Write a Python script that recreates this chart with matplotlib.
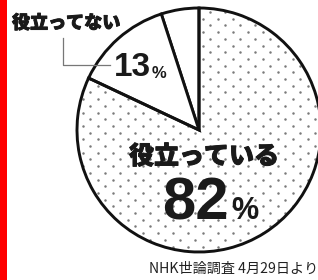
import numpy as np
import matplotlib
matplotlib.use("Agg")
import matplotlib.pyplot as plt
import matplotlib.patheffects as pe

# ---- data ----
categories = ["その他", "役立ってない", "役立っている"]
values = [5, 13, 82]
label_small = "役立ってない"
label_big = "役立っている"
pct_small = "13"
pct_big = "82"
source = "NHK世論調査 4月29日より"

W, H = 318, 280
fig = plt.figure(figsize=(W / 100, H / 100), dpi=100)
ax = fig.add_axes([0, 0, 1, 1])

cx, cy, R = 199, H - 130, 122

wedges, _ = ax.pie(values, startangle=90, counterclock=True, center=(cx, cy),
                   radius=R, colors=["white", "white", "none"],
                   wedgeprops=dict(edgecolor="#111111", linewidth=2.1, zorder=2))
wedges[2].set_facecolor("none")

# dot texture inside the big slice
ys = np.arange(0, H, 6.7)
pts = []
for j, yy in enumerate(ys):
    off = 7.5 if j % 2 else 0.0
    for xx in np.arange(off, W, 15.0):
        pts.append((xx, yy))
pts = np.array(pts)
sc = ax.scatter(pts[:, 0], pts[:, 1], s=3.2, color="#7a7a7a", linewidths=0, zorder=1)
sc.set_clip_path(wedges[2])

ax.set_xlim(0, W)
ax.set_ylim(0, H)
ax.set_aspect("equal")
ax.axis("off")

# red bar on left
ax.add_patch(plt.Rectangle((0, 0), 7, H, color="#ff0000", lw=0, zorder=5))

jp = ["Noto Sans CJK JP", "DejaVu Sans"]
num = ["Liberation Sans", "DejaVu Sans"]
thick = [pe.withStroke(linewidth=0.7, foreground="#1a1a1a")]

ax.text(12, H - 23, label_small, family=jp, fontsize=13, weight="heavy",
        ha="left", va="center", color="#1a1a1a", zorder=6, path_effects=thick)
# leader line
ax.plot([63, 63, 110], [H - 38, H - 65, H - 65], color="#777777", lw=0.9, zorder=6)

ax.text(114, H - 68, pct_small, family=num, fontsize=24, weight="bold",
        ha="left", va="center", color="#1a1a1a", zorder=6)
ax.text(152, H - 73, "%", family=num, fontsize=12, weight="bold",
        ha="left", va="center", color="#1a1a1a", zorder=6)

ax.text(204, H - 156, label_big, family=jp, fontsize=18, weight="heavy",
        ha="center", va="center", color="#1a1a1a", zorder=6, path_effects=thick)
ax.text(162, H - 204, pct_big, family=num, fontsize=43, weight="bold",
        ha="left", va="center", color="#1a1a1a", zorder=6)
ax.text(231, H - 211, "%", family=num, fontsize=22, weight="bold",
        ha="left", va="center", color="#1a1a1a", zorder=6)

ax.text(149, H - 269, source, family=jp, fontsize=10.2, ha="left", va="center",
        color="#222222", zorder=6)

fig.savefig("out.png", dpi=100, facecolor="white")
